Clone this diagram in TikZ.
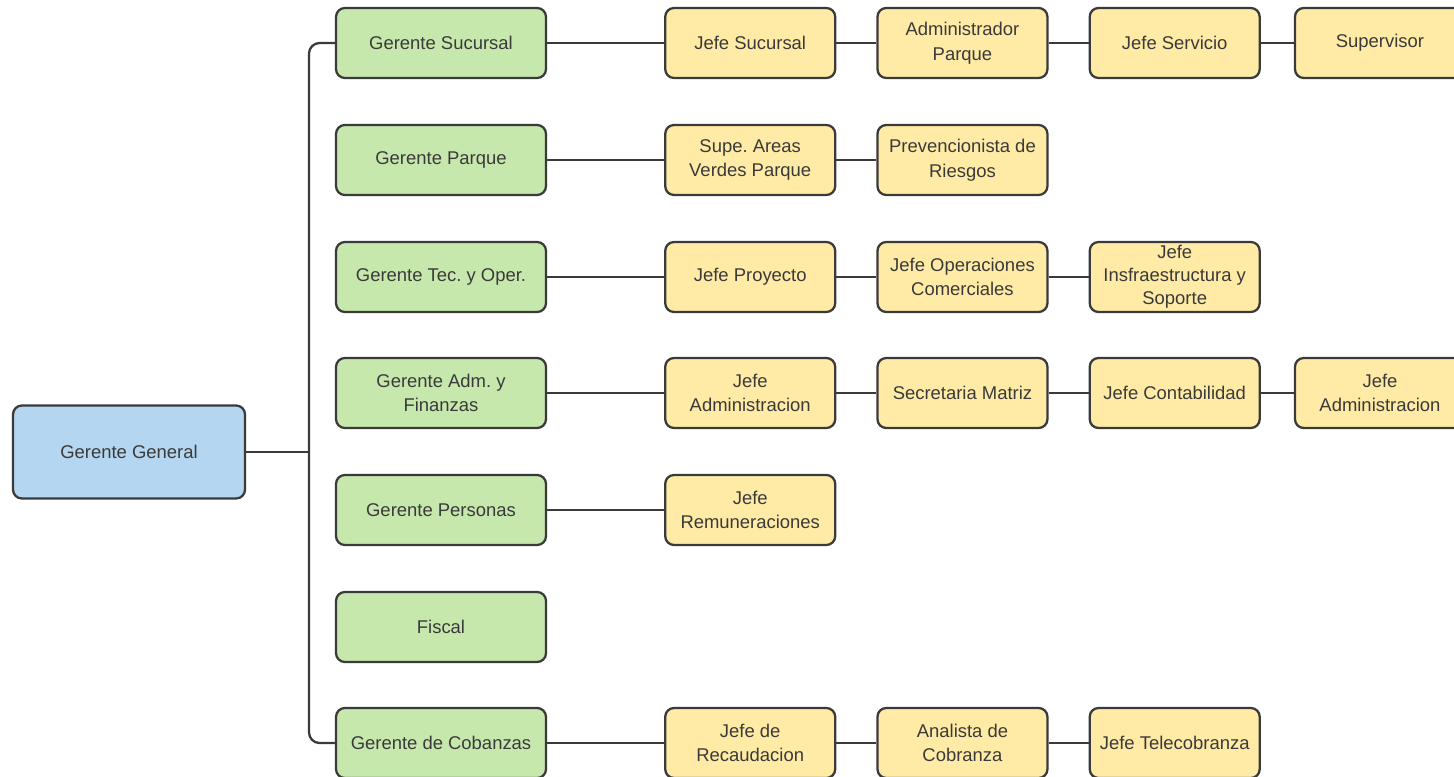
\documentclass[tikz,border=0pt]{standalone}
\usepackage{fontspec}
\setmainfont{Liberation Sans}
\usetikzlibrary{positioning}

\definecolor{gerfill}{HTML}{C7E8AD}
\definecolor{jefefill}{HTML}{FFEBA6}
\definecolor{genfill}{HTML}{B5D6F0}
\definecolor{linecol}{HTML}{3A3A3A}

\begin{document}
\frenchspacing
\begin{tikzpicture}[
x=0.02cm, y=-0.02cm,
box/.style={
draw=linecol,
line width=1.3pt,
rounded corners=5pt,
align=center,
text=linecol,
inner sep=2pt,
font=\fontsize{10.5}{14}\selectfont
},
gerente/.style={box, fill=gerfill, minimum width=4.2cm, minimum height=1.4cm},
jefe/.style={box, fill=jefefill, minimum width=3.4cm, minimum height=1.4cm},
link/.style={draw=linecol, line width=1.3pt},
node distance=0.8cm
]

\clip (0,0) rectangle (1454,777);

% ------------------------
% General manager (left)
% ------------------------
\node[box, fill=genfill, minimum width=4.64cm, minimum height=1.86cm] (gg) at (129,452) {Gerente General};

% ------------------------
% Managers (green column)
% ------------------------
\node[gerente] (gsuc) at (441,43) {Gerente Sucursal};
\node[gerente] (gpar) at (441,160) {Gerente Parque};
\node[gerente] (gtec) at (441,277) {Gerente Tec. y Oper.};
\node[gerente] (gadm) at (441,393) {Gerente Adm. y\\Finanzas};
\node[gerente] (gper) at (441,510) {Gerente Personas};
\node[gerente] (fiscal) at (441,627) {Fiscal};
\node[gerente] (gcob) at (441,743) {Gerente de Cobanzas};

% ------------------------
% Heads (yellow rows)
% ------------------------
\node[jefe, right=2.34cm of gsuc] (jsuc) {Jefe Sucursal};
\node[jefe, right=of jsuc] (adpar) {Administrador\\Parque};
\node[jefe, right=of adpar] (jserv) {Jefe Servicio};
\node[jefe, right=0.66cm of jserv] (superv) {Supervisor};

\node[jefe, right=2.34cm of gpar] (supav) {Supe. Areas\\Verdes Parque};
\node[jefe, right=of supav] (prev) {Prevencionista de\\Riesgos};

\node[jefe, right=2.34cm of gtec] (jproy) {Jefe Proyecto};
\node[jefe, right=of jproy] (jopc) {Jefe Operaciones\\Comerciales};
\node[jefe, right=of jopc, font=\fontsize{10.5}{13}\selectfont] (jinf) {Jefe\\Insfraestructura y\\Soporte};

\node[jefe, right=2.34cm of gadm] (jadm) {Jefe\\Administracion};
\node[jefe, right=of jadm] (secm) {Secretaria Matriz};
\node[jefe, right=of secm] (jcont) {Jefe Contabilidad};
\node[jefe, right=0.66cm of jcont] (jadmb) {Jefe\\Administracion};

\node[jefe, right=2.34cm of gper] (jrem) {Jefe\\Remuneraciones};

\node[jefe, right=2.34cm of gcob] (jrec) {Jefe de\\Recaudacion};
\node[jefe, right=of jrec] (anco) {Analista de\\Cobranza};
\node[jefe, right=of anco] (jtel) {Jefe Telecobranza};

% ------------------------
% Connectors
% ------------------------
\coordinate (bus) at (309,452);
\draw[link] (gg.east) -- (bus);
\draw[link, rounded corners=6pt] (gsuc.west) -| (bus) |- (gcob.west);

\draw[link] (gsuc) -- (jsuc) -- (adpar) -- (jserv) -- (superv);
\draw[link] (gpar) -- (supav) -- (prev);
\draw[link] (gtec) -- (jproy) -- (jopc) -- (jinf);
\draw[link] (gadm) -- (jadm) -- (secm) -- (jcont) -- (jadmb);
\draw[link] (gper) -- (jrem);
\draw[link] (gcob) -- (jrec) -- (anco) -- (jtel);

\end{tikzpicture}
\end{document}
